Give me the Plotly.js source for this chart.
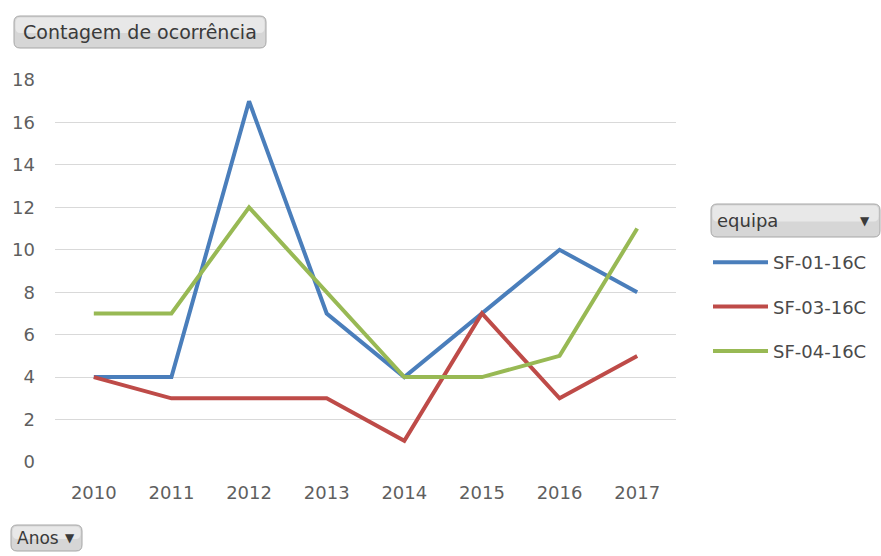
<!DOCTYPE html>
<html><head><meta charset="utf-8">
<script src="https://cdn.plot.ly/plotly-3.0.1.min.js"></script>
<style>html,body{margin:0;padding:0;background:#fff;}#chart{width:881px;height:556px;}</style>
</head><body><div id="chart"></div>
<script>
const years = ['2010','2011','2012','2013','2014','2015','2016','2017'];
const seriesNames = ['SF-01-16C','SF-03-16C','SF-04-16C'];
const sf01 = [4,4,17,7,4,7,10,8];
const sf03 = [4,3,3,3,1,7,3,5];
const sf04 = [7,7,12,8,4,4,5,11];
const yTicks = [0,2,4,6,8,10,12,14,16,18];
const colors = ['#4a7ebb','#be4b48','#98b954'];

const W=881,H=556, L=55, R=205, T=80, B=94;
const pw=W-L-R, ph=H-T-B;
function px(x){return (x-L)/pw;}
function py(y){return (H-B-y)/ph;}
function rrect(x0,y0,x1,y1,r){
  const a=px(x0),b=px(x1),c=py(y0),d=py(y1),rx=r/pw,ry=r/ph;
  return `M${a+rx},${c} L${b-rx},${c} Q${b},${c} ${b},${c-ry} L${b},${d+ry} Q${b},${d} ${b-rx},${d} L${a+rx},${d} Q${a},${d} ${a},${d+ry} L${a},${c-ry} Q${a},${c} ${a+rx},${c} Z`;
}
function btn(x0,y0,x1,y1){
  return [
    {type:'path',xref:'paper',yref:'paper',path:rrect(x0,y0,x1,y1,6),fillcolor:'#d6d6d6',line:{color:'#a6a6a6',width:1},layer:'above'},
    {type:'path',xref:'paper',yref:'paper',path:rrect(x0+1.5,y0+1.5,x1-1.5,(y0+y1)/2+1,5),fillcolor:'#e8e8e8',line:{width:0},layer:'above'}
  ];
}
const data = [sf01,sf03,sf04].map((v,i)=>({
  x: years, y: v, type:'scatter', mode:'lines', name: seriesNames[i],
  line:{color:colors[i], width:4}, legendgroup:'g'+i
}));
const FAM = 'DejaVu Sans, Tahoma, sans-serif';
const font = {family:FAM, size:18, color:'#5f5f5f'};
const ann = (x,y,text,size)=>({xref:'paper',yref:'paper',x:px(x),y:py(y),xanchor:'left',yanchor:'middle',text:text,showarrow:false,font:{family:FAM,size:size||17,color:'#3a3a3a'}});
const layout = {
  width:W,height:H,margin:{l:L,r:R,t:T,b:B},
  paper_bgcolor:'#fff',plot_bgcolor:'#fff',
  font:font,
  showlegend:true,
  legend:{xref:'container',yref:'container',x:708/W,y:1-244/H,xanchor:'left',yanchor:'top',
    traceorder:'grouped',tracegroupgap:18,itemwidth:55,
    font:{family:FAM,size:18,color:'#4a4a4a'},bgcolor:'rgba(0,0,0,0)'},
  xaxis:{type:'category',range:[-0.5,7.5],showgrid:false,zeroline:false,showline:false,ticks:'',
    tickfont:font,ticklabelstandoff:18,fixedrange:true},
  yaxis:{range:[0,18],tickvals:yTicks,ticktext:yTicks.map(String),showgrid:true,gridcolor:'#d9d9d9',gridwidth:1,
    zeroline:false,showline:false,ticks:'',tickfont:font,ticklabelstandoff:19,fixedrange:true},
  shapes:[].concat(btn(14,16,266,48),btn(711,204,880,237),btn(11,525,82,551)),
  annotations:[
    ann(21,32,'Contagem de ocorrência',19),
    ann(715,220.5,'equipa',18),
    ann(858,220.5,'▼',12),
    ann(15,538,'Anos',17),
    ann(63,538,'▼',12)
  ]
};
Plotly.newPlot('chart',data,layout,{displayModeBar:false,staticPlot:true});
</script></body></html>
